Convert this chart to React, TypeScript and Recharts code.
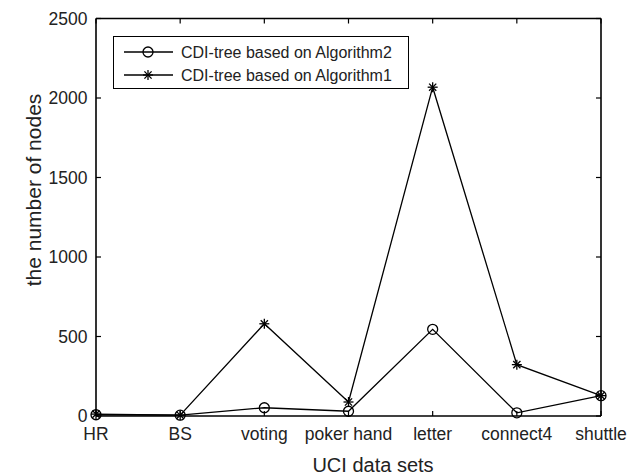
import React from 'react';
import { LineChart, Line, XAxis, YAxis, ReferenceLine, Legend } from 'recharts';

const categories = ['HR', 'BS', 'voting', 'poker hand', 'letter', 'connect4', 'shuttle'];
const alg2Values = [8, 5, 52, 30, 545, 20, 128];
const alg1Values = [12, 5, 580, 88, 2068, 323, 128];
const yTicks = [0, 500, 1000, 1500, 2000, 2500];
const seriesNames = ['CDI-tree based on Algorithm2', 'CDI-tree based on Algorithm1'];

const data = categories.map((name, i) => ({ name, alg2: alg2Values[i], alg1: alg1Values[i] }));

const FONT = '"Liberation Sans", Arial, Helvetica, sans-serif';
const TXT = '#222';
const PW = 505;
const PH = 397.5;

const CircleMarker = ({ cx, cy }: any) => (
  <circle cx={cx} cy={cy} r={5} fill="none" stroke="#000" strokeWidth={1.3} />
);

const StarMarker = ({ cx, cy }: any) => {
  const r = 5;
  const d = r * 0.72;
  return (
    <g stroke="#000" strokeWidth={1.3}>
      <line x1={cx} y1={cy - r} x2={cx} y2={cy + r} />
      <line x1={cx - r} y1={cy} x2={cx + r} y2={cy} />
      <line x1={cx - d} y1={cy - d} x2={cx + d} y2={cy + d} />
      <line x1={cx - d} y1={cy + d} x2={cx + d} y2={cy - d} />
    </g>
  );
};

const YTick = ({ x, y, payload }: any) => (
  <g>
    <text x={x - 8.5} y={y} dy="0.35em" textAnchor="end" fontSize={17.5} fontFamily={FONT} fill={TXT}>
      {payload.value}
    </text>
    <line x1={x} x2={x + 5} y1={y} y2={y} stroke="#000" strokeWidth={1.2} />
    <line x1={x + PW} x2={x + PW - 5} y1={y} y2={y} stroke="#000" strokeWidth={1.2} />
  </g>
);

const XTick = ({ x, y, payload }: any) => (
  <g>
    <text x={x} y={y + 24} textAnchor="middle" fontSize={17.5} fontFamily={FONT} fill={TXT}>
      {payload.value}
    </text>
    <line x1={x} x2={x} y1={y} y2={y - 5} stroke="#000" strokeWidth={1.2} />
    <line x1={x} x2={x} y1={y - PH} y2={y - PH + 5} stroke="#000" strokeWidth={1.2} />
  </g>
);

const YTitle = (props: any) => {
  const vb = props.viewBox || { x: 8, y: 10.5 };
  const x = vb.x + 25;
  const y = vb.y + 171.5;
  return (
    <text x={x} y={y} transform={`rotate(-90, ${x}, ${y})`} textAnchor="middle" fontSize={21} fontFamily={FONT} fill={TXT}>
      the number of nodes
    </text>
  );
};

const XTitle = (props: any) => {
  const vb = props.viewBox || { x: 88, y: 408 };
  return (
    <text x={vb.x + 277} y={vb.y + 55.5} textAnchor="middle" fontSize={20} fontFamily={FONT} fill={TXT}>
      UCI data sets
    </text>
  );
};

const LegendBox = () => (
  <div style={{ width: 296, height: 53, border: '1.5px solid #000', background: '#fff', boxSizing: 'border-box' }}>
    <svg width={293} height={50} style={{ display: 'block' }}>
      {[0, 1].map((i) => {
        const y = 15 + i * 23;
        return (
          <g key={i}>
            <line x1={10} x2={59} y1={y} y2={y} stroke="#000" strokeWidth={1.3} />
            {i === 0 ? <CircleMarker cx={34} cy={y} /> : <StarMarker cx={34} cy={y} />}
            <text x={67} y={y} dy="0.35em" fontSize={16} fontFamily={FONT} fill={TXT}>
              {seriesNames[i]}
            </text>
          </g>
        );
      })}
    </svg>
  </div>
);

export default function App() {
  return (
    <LineChart width={636} height={468} data={data} margin={{ top: 10.5, right: 43, bottom: 5, left: 8 }}>
      <XAxis
        dataKey="name"
        interval={0}
        tickSize={0}
        tickMargin={0}
        height={55}
        tick={<XTick />}
        axisLine={{ stroke: '#000', strokeWidth: 1.6 }}
        label={{ content: (p: any) => <XTitle {...p} /> }}
      />
      <YAxis
        type="number"
        domain={[0, 2500]}
        ticks={yTicks}
        tickSize={0}
        tickMargin={0}
        width={80}
        tick={<YTick />}
        axisLine={{ stroke: '#000', strokeWidth: 1.6 }}
        label={{ content: (p: any) => <YTitle {...p} /> }}
      />
      <ReferenceLine y={2500} stroke="#000" strokeWidth={1.6} />
      <ReferenceLine x="shuttle" stroke="#000" strokeWidth={1.6} />
      <Legend
        layout="horizontal"
        verticalAlign="middle"
        align="center"
        wrapperStyle={{ left: 105, top: 28, width: 296, height: 53 }}
        content={() => <LegendBox />}
      />
      <Line
        dataKey="alg1"
        name={seriesNames[1]}
        stroke="#000"
        strokeWidth={1.3}
        dot={<StarMarker />}
        activeDot={false}
        isAnimationActive={false}
      />
      <Line
        dataKey="alg2"
        name={seriesNames[0]}
        stroke="#000"
        strokeWidth={1.3}
        dot={<CircleMarker />}
        activeDot={false}
        isAnimationActive={false}
      />
    </LineChart>
  );
}
